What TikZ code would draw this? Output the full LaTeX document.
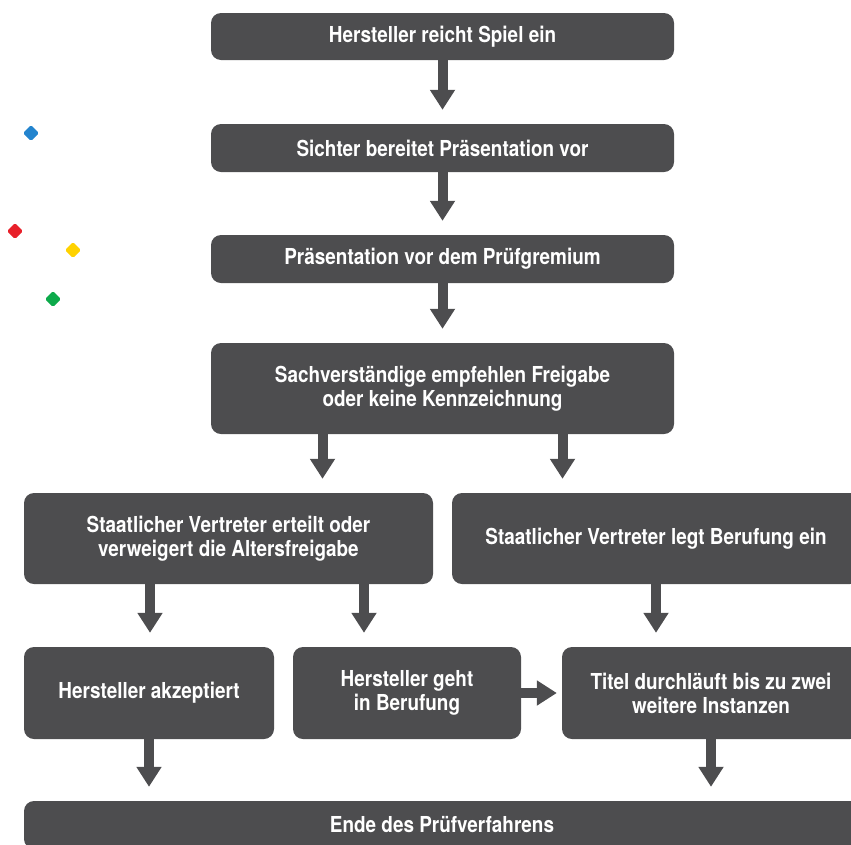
\documentclass[tikz,border=0pt]{standalone}
\usepackage{fontspec}
\newfontfamily\boxfont[FakeStretch=0.86]{TeX Gyre Heros}
\usetikzlibrary{arrows.meta}

\definecolor{boxgrey}{HTML}{4D4D4F}
\definecolor{dotblue}{HTML}{2384CE}
\definecolor{dotred}{HTML}{E8202A}
\definecolor{dotyellow}{HTML}{FFD200}
\definecolor{dotgreen}{HTML}{0DAA4B}

\tikzset{
  stepbox/.style={fill=boxgrey, rounded corners=10pt, inner sep=0pt, align=center,
    text=white, font=\boxfont\bfseries\fontsize{22}{24}\selectfont},
  flow/.style={draw=boxgrey, line width=10pt,
    -{Triangle[length=20pt,width=24pt]}, shorten >=14pt}
}

\begin{document}
\begin{tikzpicture}[x=1pt, y=-1pt]
  % page 851 x 844 px, 1 px = 1 pt
  \useasboundingbox (0,0) rectangle (851,844);
  \clip (0,0) rectangle (851,844);

  % coloured diamonds on the left
  \foreach \col/\x/\y in {dotblue/31/133, dotred/15/231, dotyellow/73/250, dotgreen/53/299} {
    \fill[\col, rounded corners=1.5pt] (\x,\y-8) -- (\x+8,\y) -- (\x,\y+8) -- (\x-8,\y) -- cycle;
  }

  % main column
  \node[stepbox, minimum width=463pt, minimum height=47pt] (submit) at (442.5,36.5)
    {Hersteller reicht Spiel ein};
  \node[stepbox, minimum width=463pt, minimum height=48pt] (prepare) at (442.5,148)
    {Sichter bereitet Präsentation vor};
  \node[stepbox, minimum width=463pt, minimum height=48pt] (present) at (442.5,259)
    {Präsentation vor dem Prüfgremium};
  \node[stepbox, minimum width=463pt, minimum height=91pt] (experts) at (442.5,388.5)
    {Sachverständige empfehlen Freigabe\\oder keine Kennzeichnung};

  % state representative
  \node[stepbox, minimum width=409pt, minimum height=91pt] (grant) at (228.5,538.5)
    {Staatlicher Vertreter erteilt oder\\verweigert die Altersfreigabe};
  \node[stepbox, minimum width=408pt, minimum height=91pt] (appealstate) at (656,538.5)
    {Staatlicher Vertreter legt Berufung ein};

  % publisher reaction
  \node[stepbox, minimum width=250pt, minimum height=92pt] (accept) at (149,693)
    {Hersteller akzeptiert};
  \node[stepbox, minimum width=228pt, minimum height=92pt] (appealpub) at (407,693)
    {Hersteller geht\\in Berufung};
  \node[stepbox, minimum width=298pt, minimum height=92pt] (instances) at (711,693)
    {Titel durchläuft bis zu zwei\\weitere Instanzen};

  % end
  \node[stepbox, minimum width=836pt, minimum height=48pt] (finish) at (442,825)
    {Ende des Prüfverfahrens};

  % arrows
  \draw[flow] (submit.south) -- (prepare.north);
  \draw[flow] (prepare.south) -- (present.north);
  \draw[flow] (present.south) -- (experts.north);
  \draw[flow] ([xshift=-120pt]experts.south) -- ([xshift=-120pt]experts.south |- grant.north);
  \draw[flow] ([xshift=120pt]experts.south) -- ([xshift=120pt]experts.south |- appealstate.north);
  \draw[flow] ([xshift=-78.5pt]grant.south) -- ([xshift=-78.5pt]grant.south |- accept.north);
  \draw[flow] ([xshift=135.5pt]grant.south) -- ([xshift=135.5pt]grant.south |- appealpub.north);
  \draw[flow] (appealstate.south) -- (appealstate.south |- instances.north);
  \draw[flow, shorten >=5pt] (appealpub.east) -- (instances.west);
  \draw[flow] (accept.south) -- (accept.south |- finish.north);
  \draw[flow] (instances.south) -- (instances.south |- finish.north);
\end{tikzpicture}
\end{document}
